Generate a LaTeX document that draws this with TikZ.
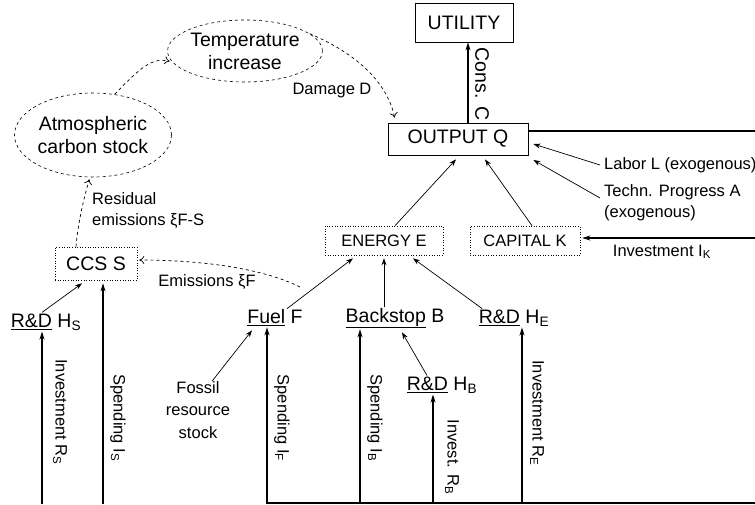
\documentclass[tikz,border=0pt]{standalone}
\usepackage{fontspec}
\setmainfont{Liberation Sans}
\usetikzlibrary{arrows.meta,shapes.geometric}
\newcommand{\bigsz}{\fontsize{19.5}{23}\selectfont}
\newcommand{\smallsz}{\fontsize{16.5}{21}\selectfont}
\tikzset{
  box/.style={draw,line width=0.8pt,font=\bigsz,inner sep=0pt},
  dotbox/.style={draw,dotted,line width=0.6pt,font=\smallsz,inner sep=0pt},
  cloud/.style={ellipse,draw,dashed,line width=0.6pt,font=\bigsz,align=center,inner sep=0pt},
  item/.style={font=\bigsz,inner sep=1pt},
  lbl/.style={font=\smallsz,inner sep=0pt},
  vlbl/.style={font=\smallsz,inner sep=0pt,rotate=-90},
  flow/.style={line width=0.7pt,-{Stealth[length=7pt,width=5pt]}},
  money/.style={line width=1.8pt,-{Stealth[length=8pt,width=5pt]}},
  carbon/.style={dashed,line width=0.7pt,-{To[length=5pt,width=8pt]}}
}
\begin{document}
\begin{tikzpicture}[x=1pt,y=-1pt]
  \useasboundingbox (0,0) rectangle (755,504);
  % economy boxes
  \node[box,minimum width=98pt,minimum height=39pt] (utility) at (464,22.5) {UTILITY};
  \node[box,minimum width=140pt,minimum height=32pt] (output) at (458,139) {OUTPUT Q};
  \node[dotbox,minimum width=118pt,minimum height=29pt] (energy) at (384,240.5) {ENERGY E};
  \node[dotbox,minimum width=110pt,minimum height=29pt] (capital) at (525,240.5) {CAPITAL K};
  \node[dotbox,font=\bigsz,minimum width=82pt,minimum height=33pt] (ccs) at (96,263.5) {CCS S};
  % climate
  \node[cloud,minimum width=157pt,minimum height=84pt] (atmos) at (93,135) {Atmospheric\\carbon stock};
  \node[cloud,minimum width=136pt,minimum height=62pt] (temp) at (245,51) {Temperature\\increase};
  % energy sources and R&D
  \node[item] (rdS) at (46,322) {\underline{R\&D} H\textsubscript{S}};
  \node[item] (fuel) at (275,318) {\underline{Fuel} F};
  \node[item] (back) at (395,318) {\underline{Backstop} B};
  \node[item] (rdE) at (514,318) {\underline{R\&D} H\textsubscript{E}};
  \node[item] (rdB) at (442,385) {\underline{R\&D} H\textsubscript{B}};
  \node[lbl,align=center,font=\fontsize{16.5}{22.5}\selectfont] (fossil) at (198,410) {Fossil\\resource\\stock};
  % labels
  \node[lbl,font=\bigsz,rotate=-90] (cons) at (482,84) {Cons. C};
  \node[lbl,anchor=west] (labor) at (604,165) {Labor L (exogenous)};
  \node[lbl,anchor=west,align=left] (techn) at (604,203) {Techn. Progress A\\(exogenous)};
  \node[lbl] (invK) at (662,252) {Investment I\textsubscript{K}};
  \node[lbl] (damage) at (332,91) {Damage D};
  \node[lbl,anchor=west,align=left] (resid) at (92,210) {Residual\\emissions ξF-S};
  \node[lbl] (emis) at (207,282) {Emissions ξF};
  \node[vlbl] (invRS) at (60,412) {Investment R\textsubscript{S}};
  \node[vlbl] (spendS) at (118,418) {Spending I\textsubscript{S}};
  \node[vlbl] (spendF) at (282,418) {Spending I\textsubscript{F}};
  \node[vlbl] (spendB) at (375,418) {Spending I\textsubscript{B}};
  \node[vlbl] (invRB) at (452,457) {Invest. R\textsubscript{B}};
  \node[vlbl] (invRE) at (537,413) {Investment R\textsubscript{E}};
  % free ends at the border
  \coordinate (bS) at (42,504);
  \coordinate (bCCS) at (103,504);
  \coordinate (bF) at (267,504);
  \coordinate (bB) at (360,504);
  \coordinate (bRB) at (433,504);
  \coordinate (bRE) at (522,504);
  \coordinate (rtop) at (755,131);
  \coordinate (rbot) at (755,238);
  \coordinate (rbase) at (755,503);
  \coordinate (fuelout) at (300,287);
  % thick money flows
  \draw[money] ([xshift=10pt]output.north) -- ([xshift=10pt]output.north |- utility.south);
  \draw[line width=1.8pt] ([yshift=8pt]output.east) -- (rtop);
  \draw[money] (rbot) -- ([xshift=2pt]capital.east |- rbot);
  \draw[line width=1.8pt] (bF |- rbase) -- (rbase);
  \draw[money] (bS) -- (bS |- rdS.south);
  \draw[money] (bCCS) -- ([yshift=-3pt]bCCS |- ccs.south);
  \draw[money] (bF) -- (bF |- fuel.south);
  \draw[money] (bB) -- (bB |- back.south);
  \draw[money] (bRB) -- (bRB |- rdB.south);
  \draw[money] (bRE) -- (bRE |- rdE.south);
  % production
  \draw[flow] ([xshift=11pt]energy.north) -- ([xshift=-2pt,yshift=-4pt]output.south);
  \draw[flow] ([xshift=7pt]capital.north) -- ([xshift=27pt,yshift=-4pt]output.south);
  \draw[flow] ([xshift=-4pt]labor.west) -- ([xshift=5pt,yshift=-5pt]output.east);
  \draw[flow] ([xshift=-4pt,yshift=5pt]techn.west) -- ([xshift=5pt,yshift=-21pt]output.east);
  \draw[flow] ([xshift=12pt]fuel.north) -- ([xshift=-31pt,yshift=-3pt]energy.south);
  \draw[flow] (energy.south |- back.north) -- ([yshift=-3pt]energy.south);
  \draw[flow] ([xshift=-32pt]rdE.north) -- ([xshift=29pt,yshift=-3pt]energy.south);
  \draw[flow] ([xshift=-15pt]rdB.north) -- ([xshift=7pt,yshift=-3pt]back.south);
  \draw[flow] ([xshift=14pt]fossil.north) -- ([xshift=-23pt,yshift=-3pt]fuel.south);
  \draw[flow] ([xshift=-4pt]rdS.north) -- ([xshift=-14pt,yshift=-3pt]ccs.south);
  % carbon cycle
  \draw[carbon] (fuelout) .. controls (262,268) and (200,260) .. ([xshift=2pt]ccs.east |- 0,260);
  \draw[carbon] ([xshift=-20pt]ccs.north) .. controls (78,222) and (84,198) .. ([yshift=-2pt]atmos.265);
  \draw[carbon] (atmos.62) .. controls (140,68) and (152,57) .. ([xshift=-2pt]temp.188);
  \draw[carbon] (temp.15) .. controls (360,55) and (388,85) .. ([xshift=7pt,yshift=5pt]output.north west);
\end{tikzpicture}
\end{document}
